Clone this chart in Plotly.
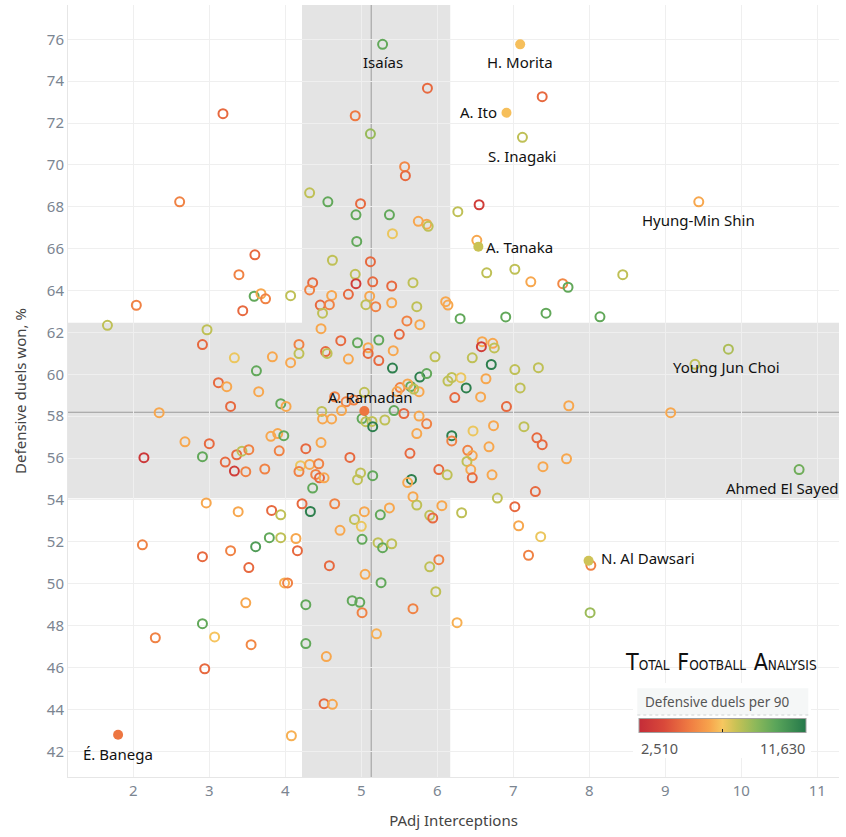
import plotly.graph_objects as go

# ---------------- DATA ----------------
# Unlabelled players: PAdj interceptions, defensive duels won %, defensive duels per 90 (colour)
interceptions = [
    3.18, 2.61, 3.60, 3.39, 3.59, 3.68, 3.74, 3.44, 4.07, 2.04,
    5.87, 7.38, 4.92, 5.12, 5.57, 5.58, 4.32, 4.56, 4.99, 6.55,
    6.27, 4.93, 5.37, 5.75, 5.86, 5.88, 5.41, 4.94, 6.52, 4.62,
    5.12, 4.92, 4.93, 5.15, 5.40, 5.68, 4.36, 4.32, 4.61, 4.83,
    5.11, 6.65, 7.02, 7.23, 7.65, 7.72, 8.44, 4.46, 4.58, 4.49,
    5.06, 5.19, 5.40, 5.73, 6.11, 6.14, 6.30, 6.90, 7.43, 8.14,
    1.66, 2.97, 2.91, 3.33, 3.83, 4.07, 4.18, 4.18, 3.62, 3.12,
    3.23, 3.65, 3.94, 4.01, 3.28, 2.34, 4.47, 5.60, 5.77, 5.50,
    4.73, 4.95, 5.23, 4.53, 4.55, 4.83, 5.09, 5.09, 5.23, 5.42,
    5.41, 5.77, 5.86, 5.97, 5.65, 5.76, 5.51, 5.47, 5.61, 5.69,
    5.04, 4.90, 4.65, 4.80, 4.48, 4.74, 4.61, 4.49, 5.01, 5.06,
    5.14, 5.15, 5.31, 5.43, 5.56, 5.76, 5.86, 5.73, 6.59, 6.58,
    6.73, 6.75, 6.46, 6.71, 7.02, 7.33, 6.19, 6.14, 6.31, 6.64,
    6.38, 7.09, 6.23, 6.57, 6.91, 7.73, 9.07, 9.83, 3.00, 2.68,
    2.14, 2.91, 3.21, 3.36, 3.43, 3.52, 3.33, 3.48, 3.73, 3.81,
    3.90, 3.98, 3.92, 4.27, 4.47, 4.85, 4.20, 4.32, 4.44, 4.18,
    4.40, 4.45, 4.51, 4.36, 4.99, 4.95, 5.15, 5.64, 5.66, 5.61,
    5.68, 5.73, 6.19, 6.19, 6.47, 6.74, 7.14, 7.31, 7.38, 6.40,
    6.46, 6.68, 6.39, 6.44, 6.46, 6.72, 6.02, 6.13, 7.39, 7.70,
    7.29, 6.79, 2.96, 3.38, 3.82, 3.94, 4.22, 4.33, 4.65, 5.04,
    5.37, 5.25, 4.91, 5.00, 4.72, 5.90, 5.94, 6.06, 6.32, 7.02,
    7.07, 7.36, 7.20, 2.12, 2.91, 3.28, 3.61, 3.79, 3.94, 4.14,
    4.16, 3.52, 3.99, 4.03, 3.48, 2.91, 2.29, 3.07, 3.55, 2.94,
    4.08, 5.01, 5.22, 5.28, 5.40, 4.58, 5.05, 5.26, 5.90, 6.02,
    4.27, 4.88, 4.98, 5.01, 5.68, 5.98, 6.26, 5.20, 4.27, 4.54,
    4.51, 4.62, 8.02, 8.01,
]
duels_won_pct = [
    72.45, 68.24, 65.71, 64.76, 63.73, 63.85, 63.61, 63.04, 63.76, 63.30,
    73.67, 73.26, 72.35, 71.49, 69.92, 69.49, 68.67, 68.24, 68.15, 68.10,
    67.77, 67.62, 67.62, 67.31, 67.17, 67.07, 66.72, 66.35, 66.40, 65.45,
    65.38, 64.78, 64.33, 64.42, 64.22, 64.38, 64.38, 64.03, 63.77, 63.82,
    63.73, 64.85, 65.02, 64.42, 64.33, 64.16, 64.76, 63.31, 63.33, 62.92,
    63.33, 63.23, 63.42, 63.23, 63.47, 63.31, 62.66, 62.74, 62.92, 62.75,
    62.34, 62.13, 61.42, 60.79, 60.84, 60.56, 61.43, 60.99, 60.17, 59.60,
    59.41, 59.17, 58.60, 58.47, 58.47, 58.17, 62.18, 62.55, 62.37, 61.91,
    61.61, 61.51, 61.64, 61.09, 61.00, 60.73, 61.27, 61.00, 60.66, 61.13,
    60.30, 59.87, 60.04, 60.84, 59.42, 59.17, 59.37, 59.18, 59.54, 59.30,
    59.14, 58.77, 58.93, 58.69, 58.23, 58.27, 57.87, 57.87, 57.89, 57.74,
    57.75, 57.50, 57.82, 58.27, 58.13, 58.01, 57.64, 57.17, 61.56, 61.32,
    61.48, 61.26, 60.79, 60.47, 60.23, 60.32, 59.85, 59.68, 59.84, 59.79,
    59.35, 59.35, 58.89, 58.92, 58.46, 58.50, 58.17, 61.20, 56.69, 56.78,
    56.02, 56.07, 55.81, 56.16, 56.33, 56.40, 55.38, 55.35, 55.48, 57.04,
    57.17, 57.07, 56.35, 56.45, 56.74, 56.03, 55.64, 55.70, 55.73, 55.36,
    55.22, 55.06, 55.06, 54.57, 55.29, 54.97, 55.16, 56.23, 54.98, 54.83,
    54.16, 53.76, 57.07, 56.82, 57.30, 57.55, 57.50, 56.97, 56.64, 56.37,
    56.12, 56.54, 55.84, 55.45, 55.06, 55.20, 55.45, 55.20, 55.59, 55.97,
    54.40, 54.09, 53.86, 53.44, 53.50, 53.29, 53.82, 53.45, 53.82, 53.44,
    53.62, 53.29, 53.07, 52.74, 52.55, 53.27, 53.14, 53.73, 53.39, 53.68,
    52.77, 52.25, 51.36, 51.86, 51.29, 51.58, 51.77, 52.20, 52.20, 52.16,
    51.58, 50.77, 50.04, 50.04, 49.09, 48.09, 47.42, 47.46, 47.09, 45.94,
    42.74, 52.12, 51.96, 51.72, 51.91, 50.86, 50.45, 50.05, 50.81, 51.15,
    49.00, 49.19, 49.11, 48.62, 48.81, 49.62, 48.14, 47.61, 47.14, 46.52,
    44.27, 44.24, 50.88, 48.62,
]
def_duels_p90 = [
    4750, 5430, 4750, 5430, 9810, 6430, 5430, 4750, 7980, 5430,
    4750, 4750, 5200, 8700, 5600, 4750, 7980, 9810, 4750, 3300,
    7980, 9810, 9810, 6430, 6430, 7980, 7250, 9810, 6430, 7980,
    4750, 7980, 3300, 4750, 4750, 7980, 4750, 5430, 6430, 4750,
    6430, 7980, 7980, 6430, 5600, 9810, 7980, 4750, 5430, 7980,
    7980, 5430, 6430, 7980, 6430, 6430, 9810, 9810, 9810, 9810,
    7980, 7980, 4750, 7250, 6430, 6430, 5430, 7980, 9810, 4750,
    6430, 6430, 9810, 6430, 4750, 6430, 6430, 5430, 6430, 4750,
    4750, 9810, 9810, 4750, 7980, 6430, 6430, 4750, 4750, 6430,
    11360, 11360, 9810, 7980, 9810, 6430, 5430, 6430, 6430, 7980,
    7980, 5430, 5430, 5430, 7980, 6430, 6430, 6430, 9810, 7980,
    7980, 11360, 7980, 9810, 4750, 6430, 5430, 6430, 6430, 3300,
    6430, 7980, 7980, 11360, 7980, 7980, 7980, 7980, 7250, 6430,
    11360, 7980, 4750, 6430, 4750, 6430, 6430, 8300, 4750, 6430,
    3060, 9810, 4750, 4750, 7980, 5430, 3300, 5430, 5430, 6430,
    6430, 9810, 5430, 4750, 6430, 4750, 7250, 6430, 5430, 5430,
    5430, 4750, 6430, 9810, 7980, 7980, 9810, 4750, 11360, 6430,
    6430, 7980, 11360, 5430, 7250, 6430, 7980, 4750, 4750, 5430,
    6430, 6430, 7980, 6430, 4750, 6430, 4750, 7980, 6430, 6430,
    4750, 7980, 6430, 6430, 4750, 7980, 4750, 11360, 5430, 6430,
    6430, 9810, 7980, 7250, 6430, 7980, 4750, 6430, 7980, 4750,
    6430, 7250, 5430, 5430, 4750, 5430, 10300, 9810, 7980, 6430,
    4750, 4750, 6600, 5430, 6430, 9810, 5430, 7000, 5600, 4750,
    6600, 9810, 7980, 9810, 7980, 4750, 6430, 9810, 7980, 5430,
    9810, 9810, 9810, 5430, 5430, 7980, 6600, 6600, 9810, 6430,
    4750, 6430, 5430, 8600,
]

# Labelled players
named_players = ["Isaías", "H. Morita", "A. Ito", "S. Inagaki", "Hyung-Min Shin",
                 "A. Tanaka", "Young Jun Choi", "A. Ramadan", "Ahmed El Sayed",
                 "N. Al Dawsari", "É. Banega"]
named_x = [5.28, 7.09, 6.91, 7.12, 9.44, 6.54, 9.39, 5.04, 10.76, 7.99, 1.80]
named_y = [75.76, 75.76, 72.49, 71.32, 68.24, 66.10, 60.48, 58.25, 55.45, 51.10, 42.79]
named_p90 = [9810, 6900, 6900, 7980, 6430, 7800, 7980, 5100, 9500, 7700, 5100]
named_filled = [False, True, True, False, False, True, False, True, False, True, True]

# Reference lines and shaded bands
ref_x, ref_y = 5.13, 58.19
band_x = (4.22, 6.17)
band_y = (54.08, 62.47)
c_min, c_max = 2510, 11630
x_ticks = list(range(2, 12))
y_ticks = list(range(42, 77, 2))

# ---------------- STYLE ----------------
colorscale = [
    [0.0, "#c42c38"], [0.15, "#d9493a"], [0.3, "#ef7b42"], [0.42, "#f7a34c"],
    [0.5, "#f6c760"], [0.58, "#c9c255"], [0.7, "#8cb85a"], [0.82, "#5aa55a"],
    [1.0, "#24784a"],
]
FONT = "Noto Sans, Open Sans, sans-serif"
# label offsets in pixels: (xshift, yshift, xanchor)
label_style = {
    "Isaías": (0, -18, "center"),
    "H. Morita": (0, -18, "center"),
    "A. Ito": (-7, 1, "right"),
    "S. Inagaki": (0, -19, "center"),
    "Hyung-Min Shin": (0, -18, "center"),
    "A. Tanaka": (6, 0, "left"),
    "Young Jun Choi": (32, -3, "center"),
    "A. Ramadan": (6, 14, "center"),
    "Ahmed El Sayed": (-17, -18, "center"),
    "N. Al Dawsari": (10, 3, "left"),
    "É. Banega": (0, -19, "center"),
}

# plot area in pixels (for legend decoration placement)
PL, PR, PT, PB = 68, 839, 5, 777
def px(xp):
    return (xp - PL) / (PR - PL)
def py(yp):
    return (PB - yp) / (PB - PT)

fig = go.Figure()

open_x = interceptions + [nx for nx, f in zip(named_x, named_filled) if not f]
open_y = duels_won_pct + [ny for ny, f in zip(named_y, named_filled) if not f]
open_c = def_duels_p90 + [nc for nc, f in zip(named_p90, named_filled) if not f]

fig.add_trace(go.Scatter(
    x=open_x, y=open_y, mode="markers", hoverinfo="skip",
    marker=dict(symbol="circle-open", size=9, color=open_c, colorscale=colorscale,
                cmin=c_min, cmax=c_max, line=dict(width=2),
                showscale=True,
                colorbar=dict(orientation="h", x=px(639.3), xanchor="left",
                              y=py(728), yanchor="middle", len=167, lenmode="pixels",
                              thickness=14, thicknessmode="pixels", xpad=0, ypad=0,
                              outlinewidth=1, outlinecolor="#a0a0a0",
                              tickvals=[(c_min + c_max) / 2], ticks="inside", ticklen=4,
                              tickcolor="#222", showticklabels=False,
                              title=dict(text=""))),
))

fig.add_trace(go.Scatter(
    x=[nx for nx, f in zip(named_x, named_filled) if f],
    y=[ny for ny, f in zip(named_y, named_filled) if f],
    mode="markers", hoverinfo="skip",
    marker=dict(symbol="circle", size=10, color=[nc for nc, f in zip(named_p90, named_filled) if f],
                colorscale=colorscale, cmin=c_min, cmax=c_max, showscale=False,
                line=dict(width=0)),
))

shapes = [
    dict(type="rect", xref="x", yref="paper", x0=band_x[0], x1=band_x[1], y0=0, y1=1,
         fillcolor="#e4e4e4", line=dict(width=0), layer="below"),
    dict(type="rect", xref="paper", yref="y", x0=0, x1=1, y0=band_y[0], y1=band_y[1],
         fillcolor="#e4e4e4", line=dict(width=0), layer="below"),
    dict(type="line", xref="x", yref="paper", x0=ref_x, x1=ref_x, y0=0, y1=1,
         line=dict(color="#9a9a9a", width=1), layer="between"),
    dict(type="line", xref="paper", yref="y", x0=0, x1=1, y0=ref_y, y1=ref_y,
         line=dict(color="#9a9a9a", width=1), layer="between"),
    # legend white box
    dict(type="rect", xref="paper", yref="paper", x0=px(633), x1=px(811), y0=py(758), y1=py(683),
         fillcolor="white", line=dict(width=0), layer="above"),
    dict(type="rect", xref="paper", yref="paper", x0=px(637.3), x1=px(808.3), y0=py(715), y1=py(688.3),
         fillcolor="#f5f7f7", line=dict(width=0), layer="above"),
    dict(type="line", xref="paper", yref="paper", x0=px(637.3), x1=px(808.3), y0=py(715), y1=py(715),
         line=dict(color="#d0d4d4", width=1, dash="dot"), layer="above"),
]

annotations = []
for name, nx, ny in zip(named_players, named_x, named_y):
    xs, ys, xa = label_style[name]
    annotations.append(dict(x=nx, y=ny, xref="x", yref="y", text=name, showarrow=False,
                            xshift=xs, yshift=ys, xanchor=xa, yanchor="middle",
                            font=dict(family=FONT, size=15, color="#111111")))

annotations += [
    dict(x=px(642.7), y=py(701.5), xref="paper", yref="paper", text="Defensive duels per 90",
         showarrow=False, xanchor="left", yanchor="middle",
         font=dict(family=FONT, size=13.5, color="#555555")),
    dict(x=px(639.3), y=py(747.7), xref="paper", yref="paper", text="2,510",
         showarrow=False, xanchor="left", yanchor="middle",
         font=dict(family=FONT, size=14.5, color="#555555")),
    dict(x=px(806.7), y=py(747.7), xref="paper", yref="paper", text="11,630",
         showarrow=False, xanchor="right", yanchor="middle",
         font=dict(family=FONT, size=14.5, color="#555555")),
    dict(x=px(721), y=py(662), xref="paper", yref="paper",
         text=("<span style='font-size:23px'>T</span>OTAL  "
               "<span style='font-size:23px'>F</span>OOTBALL  "
               "<span style='font-size:23px'>A</span>NALYSIS"),
         showarrow=False, xanchor="center", yanchor="middle",
         font=dict(family="DejaVu Sans Condensed, Liberation Sans Narrow, sans-serif",
                   size=13.5, color="#111111")),
]

fig.update_layout(
    width=846, height=837,
    margin=dict(l=PL, r=846 - PR, t=PT, b=837 - PB),
    plot_bgcolor="white", paper_bgcolor="white",
    showlegend=False,
    font=dict(family=FONT),
    shapes=shapes, annotations=annotations,
    xaxis=dict(range=[1.141, 11.285], tickvals=x_ticks, showgrid=True, gridcolor="#efefef",
               zeroline=False, showline=True, linecolor="#e6e6e6", linewidth=1, ticks="",
               tickfont=dict(family=FONT, size=15, color="#7b8591"),
               title=dict(text="PAdj Interceptions", standoff=16,
                          font=dict(family=FONT, size=15, color="#444444"))),
    yaxis=dict(range=[40.77, 77.64], tickvals=y_ticks, showgrid=True, gridcolor="#efefef",
               zeroline=False, showline=True, linecolor="#e6e6e6", linewidth=1, ticks="",
               tickfont=dict(family=FONT, size=15, color="#7b8591"),
               title=dict(text="Defensive duels won, %", standoff=16,
                          font=dict(family=FONT, size=15, color="#444444"))),
)

fig.write_html("out.html", config={"displayModeBar": False})
